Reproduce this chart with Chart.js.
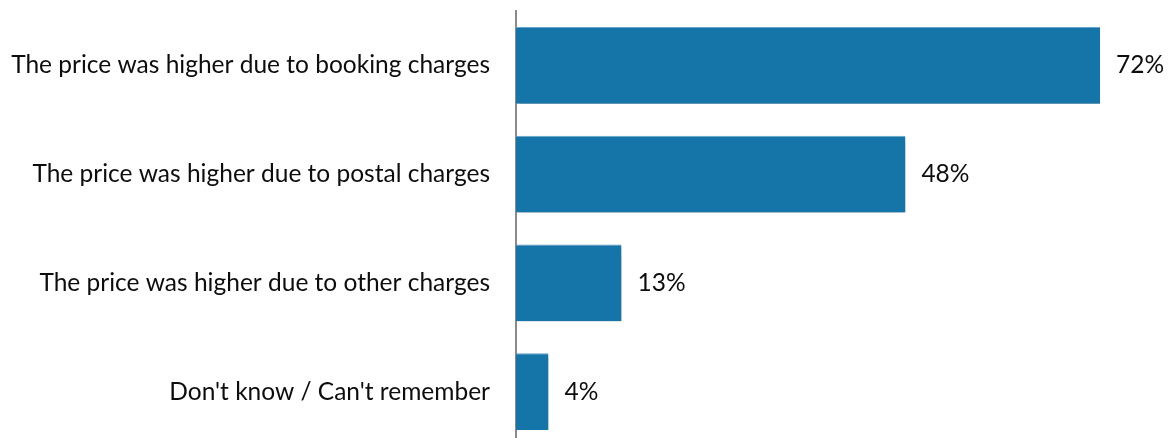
<!DOCTYPE html>
<html>
<head>
<meta charset="utf-8">
<script src="https://cdn.jsdelivr.net/npm/chart.js@4.4.0/dist/chart.umd.min.js"></script>
<style>
  html, body { margin: 0; padding: 0; background: #ffffff; overflow: hidden; }
  #wrap { width: 1168px; height: 446px; }
</style>
</head>
<body>
<div id="wrap"><canvas id="chart" width="1168" height="446"></canvas></div>
<script>
// Reasons given for the higher price (% of respondents)
const categories = [
  "The price was higher due to booking charges",
  "The price was higher due to postal charges",
  "The price was higher due to other charges",
  "Don't know / Can't remember"
];
const values = [72, 48, 13, 4];

const FONT = "Lato, 'Open Sans', sans-serif";
const FONT_SIZE = 24.5;
const BAR = "#1575a9";

// Soft drop shadow beneath each bar
const barShadow = {
  id: "barShadow",
  beforeDatasetDraw(chart) {
    const ctx = chart.ctx;
    ctx.save();
    ctx.shadowColor = "rgba(0,0,0,0.35)";
    ctx.shadowBlur = 4;
    ctx.shadowOffsetX = 2;
    ctx.shadowOffsetY = 3;
  },
  afterDatasetDraw(chart) {
    chart.ctx.restore();
  }
};

// Percentage labels to the right of each bar
const valueLabels = {
  id: "valueLabels",
  afterDatasetsDraw(chart) {
    const ctx = chart.ctx;
    const meta = chart.getDatasetMeta(0);
    ctx.save();
    ctx.font = FONT_SIZE + "px " + FONT;
    ctx.fillStyle = "#0d0d0d";
    ctx.textAlign = "left";
    ctx.textBaseline = "middle";
    meta.data.forEach((bar, i) => {
      ctx.fillText(values[i] + "%", bar.x + 16, bar.y);
    });
    ctx.restore();
  }
};

new Chart(document.getElementById("chart"), {
  type: "bar",
  data: {
    labels: categories,
    datasets: [{
      data: values,
      backgroundColor: BAR,
      borderColor: "#6aa8cf",
      borderWidth: { top: 1, left: 0, right: 0, bottom: 0 },
      borderSkipped: false,
      categoryPercentage: 1,
      barPercentage: 0.708
    }]
  },
  options: {
    indexAxis: "y",
    responsive: false,
    animation: false,
    layout: { padding: { top: 11, right: 3, bottom: 0, left: 0 } },
    plugins: { legend: { display: false }, tooltip: { enabled: false } },
    scales: {
      x: { display: false, min: 0, max: 80 },
      y: {
        afterFit(scale) {
          scale.width = 516;
          scale.paddingTop = 0;
          scale.paddingBottom = 0;
        },
        grid: { display: false, drawTicks: false },
        border: { display: true, color: "#8a8a8a", width: 2 },
        ticks: {
          padding: 26,
          color: "#0d0d0d",
          font: { family: FONT, size: FONT_SIZE }
        }
      }
    }
  },
  plugins: [barShadow, valueLabels]
});
</script>
</body>
</html>
